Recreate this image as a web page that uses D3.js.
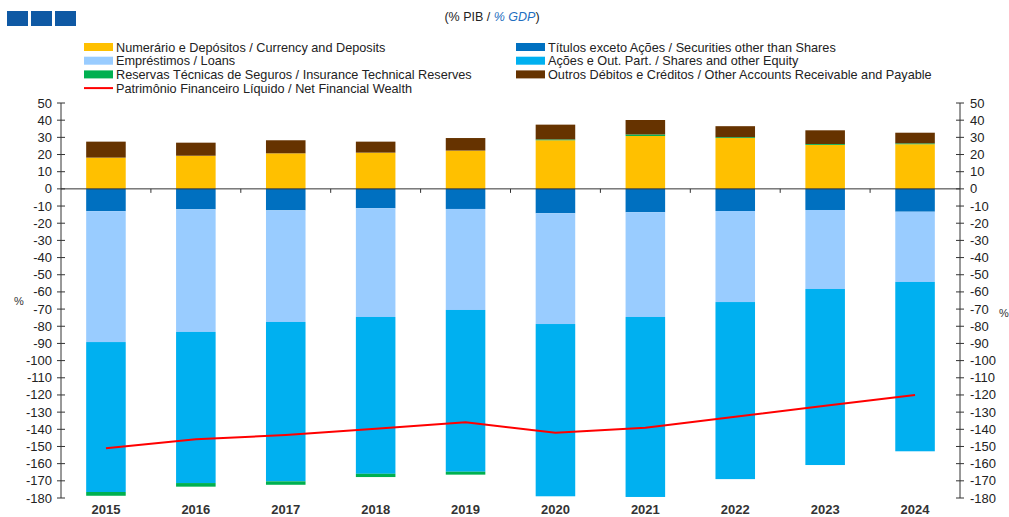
<!DOCTYPE html>
<html>
<head>
<meta charset="utf-8">
<script src="https://cdn.jsdelivr.net/npm/d3@7"></script>
<style>
  body { margin: 0; background: #fff; }
  svg { display: block; font-family: "Liberation Sans", Arial, sans-serif; }
</style>
</head>
<body>
<script>
// chart data (% of GDP)
const years = ["2015", "2016", "2017", "2018", "2019", "2020", "2021", "2022", "2023", "2024"];
const currency   = [18.2, 19.3, 20.7, 21.1, 22.3, 28.3, 30.8, 29.6, 25.6, 26.0];
const securities = [-13.0, -11.9, -12.5, -11.3, -11.7, -14.2, -13.6, -12.9, -12.3, -13.3];
const loans      = [-76.2, -71.4, -65.0, -63.3, -58.8, -64.5, -61.0, -53.0, -46.0, -40.9];
const equity     = [-87.3, -88.0, -92.8, -91.3, -94.2, -100.3, -104.8, -103.1, -102.5, -98.6];
const insurance  = [-2.2, -2.1, -2.0, -1.9, -1.7, 0.5, 0.9, 0.5, 0.5, 0.5];
const otherAcc   = [9.3, 7.6, 7.6, 6.4, 7.3, 8.6, 8.4, 6.4, 8.0, 6.2];
const netWealth  = [-151.1, -145.8, -143.3, -139.7, -135.9, -142.0, -139.1, -132.7, -126.3, -120.0];
const yTicks = d3.range(-180, 51, 10);

// series order matters for the diverging stack
const series = [
  { key: "currency",   values: currency,   color: "#FFC000", label: "Numerário e Depósitos / Currency and Deposits" },
  { key: "securities", values: securities, color: "#0070C0", label: "Títulos exceto Ações / Securities other than Shares" },
  { key: "loans",      values: loans,      color: "#99CCFF", label: "Empréstimos / Loans" },
  { key: "equity",     values: equity,     color: "#00B0F0", label: "Ações e Out. Part. / Shares and other Equity" },
  { key: "insurance",  values: insurance,  color: "#00B050", label: "Reservas Técnicas de Seguros / Insurance Technical Reserves" },
  { key: "other",      values: otherAcc,   color: "#663300", label: "Outros Débitos e Créditos / Other Accounts Receivable and Payable" }
];

const table = years.map((y, i) => {
  const row = { year: y };
  series.forEach(s => { row[s.key] = s.values[i]; });
  return row;
});

const W = 1009, H = 517;
const plot = { left: 61, right: 960, top: 103, bottom: 498 };

const svg = d3.select("body").append("svg")
  .attr("width", W)
  .attr("height", H);

const x = d3.scaleBand().domain(years).range([plot.left, plot.right]).paddingInner(0.56).paddingOuter(0.28);
const y = d3.scaleLinear().domain([-180, 50]).range([plot.bottom, plot.top]);

// logo blocks
svg.append("g").selectAll("rect")
  .data([0, 1, 2])
  .join("rect")
  .attr("x", d => 7 + d * 24)
  .attr("y", 11)
  .attr("width", 21)
  .attr("height", 15)
  .attr("fill", "#0F59A4");

// title
const title = svg.append("text")
  .attr("x", 492).attr("y", 21)
  .attr("text-anchor", "middle")
  .attr("font-size", 12.5)
  .attr("fill", "#222");
title.append("tspan").text("(% PIB / ");
title.append("tspan").attr("fill", "#1F6FC0").attr("font-style", "italic").text("% GDP");
title.append("tspan").text(")");

// legend
const legendItems = [
  { s: series[0], col: 0, row: 0 },
  { s: series[2], col: 0, row: 1 },
  { s: series[4], col: 0, row: 2 },
  { s: { color: "#FF0000", label: "Patrimônio Financeiro Líquido / Net Financial Wealth", line: true }, col: 0, row: 3 },
  { s: series[1], col: 1, row: 0 },
  { s: series[3], col: 1, row: 1 },
  { s: series[5], col: 1, row: 2 }
];
const legend = svg.append("g");
legendItems.forEach(it => {
  const lx = it.col === 0 ? 84 : 516;
  const ly = 47 + it.row * 13.7;
  if (it.s.line) {
    legend.append("line")
      .attr("x1", lx).attr("x2", lx + 29)
      .attr("y1", ly).attr("y2", ly)
      .attr("stroke", it.s.color).attr("stroke-width", 2);
  } else {
    legend.append("rect")
      .attr("x", lx).attr("y", ly - 4)
      .attr("width", 29).attr("height", 8)
      .attr("fill", it.s.color);
  }
  legend.append("text")
    .attr("x", lx + 32)
    .attr("y", ly + 4.5)
    .attr("font-size", 12.7)
    .attr("fill", "#222")
    .text(it.s.label);
});

// stacked bars
const stack = d3.stack()
  .keys(series.map(s => s.key))
  .offset(d3.stackOffsetDiverging);
const stacked = stack(table);

svg.append("g").selectAll("g")
  .data(stacked)
  .join("g")
  .attr("fill", d => series.find(s => s.key === d.key).color)
  .selectAll("rect")
  .data(d => d)
  .join("rect")
  .attr("x", d => x(d.data.year))
  .attr("width", x.bandwidth())
  .attr("y", d => y(Math.max(d[0], d[1])))
  .attr("height", d => Math.abs(y(d[0]) - y(d[1])));

// zero axis with ticks between categories
const xAxis = svg.append("g");
xAxis.append("line")
  .attr("x1", plot.left).attr("x2", plot.right)
  .attr("y1", y(0)).attr("y2", y(0))
  .attr("stroke", "#333").attr("stroke-width", 1);
xAxis.selectAll("line.tk")
  .data(years.slice(1))
  .join("line")
  .attr("class", "tk")
  .attr("x1", d => x(d) - x.step() * x.paddingInner() / 2)
  .attr("x2", d => x(d) - x.step() * x.paddingInner() / 2)
  .attr("y1", y(0)).attr("y2", y(0) + 4)
  .attr("stroke", "#333");

// year labels
svg.append("g").selectAll("text")
  .data(years)
  .join("text")
  .attr("x", d => x(d) + x.bandwidth() / 2)
  .attr("y", 514)
  .attr("text-anchor", "middle")
  .attr("font-size", 13)
  .attr("font-weight", "bold")
  .attr("fill", "#333")
  .text(d => d);

// y axes (cross ticks)
function drawYAxis(xPos, anchor, dx) {
  const g = svg.append("g");
  g.append("line")
    .attr("x1", xPos).attr("x2", xPos)
    .attr("y1", y(50)).attr("y2", y(-180))
    .attr("stroke", "#333");
  g.selectAll("line.tk")
    .data(yTicks)
    .join("line")
    .attr("class", "tk")
    .attr("x1", xPos - 4).attr("x2", xPos + 4)
    .attr("y1", d => y(d)).attr("y2", d => y(d))
    .attr("stroke", "#333");
  g.selectAll("text")
    .data(yTicks)
    .join("text")
    .attr("x", xPos + dx)
    .attr("y", d => y(d) + 4.5)
    .attr("text-anchor", anchor)
    .attr("font-size", 13)
    .attr("fill", "#222")
    .text(d => d);
}
drawYAxis(plot.left, "end", -9);
drawYAxis(plot.right, "start", 10);

svg.append("text").attr("x", 14).attr("y", 305).attr("font-size", 11).attr("fill", "#333").text("%");
svg.append("text").attr("x", 999).attr("y", 317).attr("font-size", 11).attr("fill", "#333").text("%");

// net financial wealth line
const line = d3.line()
  .x((d, i) => x(years[i]) + x.bandwidth() / 2)
  .y(d => y(d));
svg.append("path")
  .datum(netWealth)
  .attr("d", line)
  .attr("fill", "none")
  .attr("stroke", "#FF0000")
  .attr("stroke-width", 2);
</script>
</body>
</html>
